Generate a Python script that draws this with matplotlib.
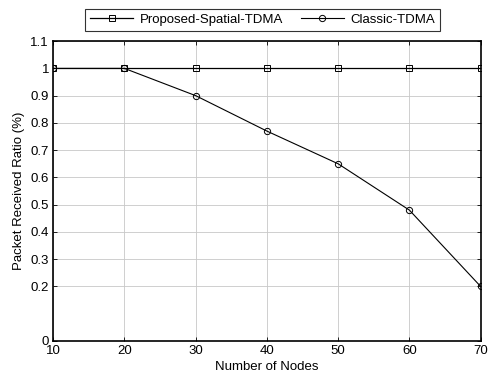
import matplotlib
matplotlib.use("Agg")
import matplotlib.pyplot as plt

plt.rcParams["font.family"] = ["Liberation Sans", "DejaVu Sans"]

nodes = [10, 20, 30, 40, 50, 60, 70]
proposed = [1, 1, 1, 1, 1, 1, 1]
classic = [1, 1, 0.9, 0.77, 0.65, 0.48, 0.2]
yticks = [0, 0.2, 0.3, 0.4, 0.5, 0.6, 0.7, 0.8, 0.9, 1, 1.1]
yticklabels = ["0", "0.2", "0.3", "0.4", "0.5", "0.6", "0.7", "0.8", "0.9", "1", "1.1"]

fig = plt.figure(figsize=(4.88, 3.81), dpi=100)
ax = fig.add_axes([0.109, 0.105, 0.876, 0.787])

ax.plot(nodes, proposed, color="black", lw=0.9, marker="s", ms=4.5,
        mfc="none", mew=0.7, label="Proposed-Spatial-TDMA")
ax.plot(nodes, classic, color="black", lw=0.8, marker="o", ms=4.5,
        mfc="none", mew=0.7, label="Classic-TDMA")

ax.set_xlim(10, 70)
ax.set_ylim(0, 1.1)
ax.set_xticks(nodes)
ax.set_yticks(yticks)
ax.set_yticklabels(yticklabels)
ax.grid(True, color="#c8c8c8", lw=0.6)
ax.tick_params(direction="in", length=3, labelsize=9.5, width=0.6, pad=3)
ax.tick_params(top=True, right=True)
for s in ax.spines.values():
    s.set_linewidth(1.2)

ax.set_xlabel("Number of Nodes", fontsize=9.5, labelpad=3)
ax.set_ylabel("Packet Received Ratio (%)", fontsize=9.5, labelpad=4)

leg = ax.legend(loc="lower center", bbox_to_anchor=(0.49, 1.035), ncol=2,
                fontsize=9.5, frameon=True, fancybox=False, edgecolor="black",
                borderaxespad=0, handlelength=3.3, columnspacing=1.3,
                borderpad=0.35, handletextpad=0.5)
leg.get_frame().set_linewidth(0.8)

fig.savefig("out.png", dpi=100)
